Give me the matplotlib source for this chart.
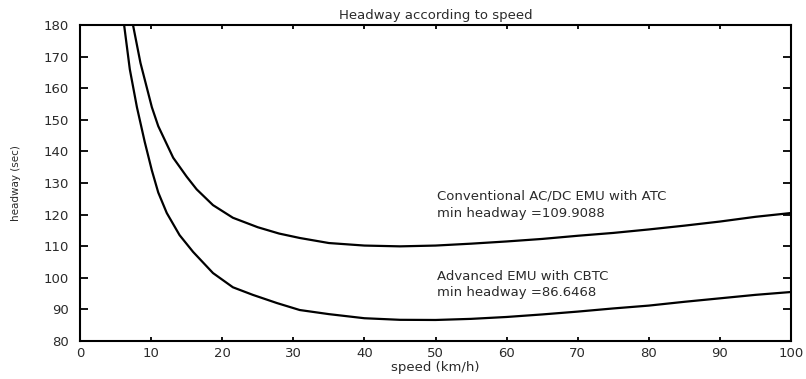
import matplotlib
matplotlib.use("Agg")
import matplotlib.pyplot as plt

# ---------------------------------------------------------------------------
# data
# ---------------------------------------------------------------------------

speed_atc = [7.45, 8.5, 10.1, 11, 13.1, 15, 16.4, 18.7, 21.5, 25, 28, 30.9, 35,
             40, 45, 50, 55, 60, 65, 70, 75, 80, 85, 90, 95, 100]
headway_atc = [180, 168, 154, 148, 138, 132, 128, 123, 119, 116, 114, 112.6, 111,
               110.2, 109.95, 110.2, 110.8, 111.5, 112.3, 113.3, 114.2, 115.3,
               116.5, 117.8, 119.3, 120.5]

speed_cbtc = [6.2, 7, 8, 9.1, 10.1, 11, 12.2, 14, 15.9, 18.7, 21.5, 24.3, 27.7,
              30.9, 35, 40, 45, 50, 55, 60, 65, 70, 75, 80, 85, 90, 95, 100]
headway_cbtc = [180, 166, 154, 143, 134, 127, 120.5, 113.5, 108.2, 101.5, 97, 94.6,
                92, 89.8, 88.5, 87.2, 86.7, 86.65, 87, 87.6, 88.4, 89.3, 90.3,
                91.2, 92.4, 93.5, 94.6, 95.5]

label_atc = ["Conventional AC/DC EMU with ATC", "min headway =109.9088"]
label_cbtc = ["Advanced EMU with CBTC", "min headway =86.6468"]

# ---------------------------------------------------------------------------
# plot
# ---------------------------------------------------------------------------

txt = '#2a2a2a'
fig = plt.figure(figsize=(8.06, 3.79), dpi=100)
ax = fig.add_axes([0.0993, 0.1003, 0.8821, 0.8337])

ax.plot(speed_atc, headway_atc, 'k-', lw=1.6)
ax.plot(speed_cbtc, headway_cbtc, 'k-', lw=1.6)

ax.set_xlim(0, 100)
ax.set_ylim(80, 180)
ax.set_xticks(range(0, 101, 10))
ax.set_yticks(range(80, 181, 10))

for s in ax.spines.values():
    s.set_linewidth(1.5)

ax.tick_params(axis='both', direction='in', top=True, right=True,
               labelsize=9.5, labelcolor=txt, width=1.3)
ax.tick_params(axis='y', length=6, pad=8)
ax.tick_params(axis='x', length=3, pad=4)

ax.text(50.2, 125.9, label_atc[0], fontsize=9.5, color=txt, va='center')
ax.text(50.2, 120.5, label_atc[1], fontsize=9.5, color=txt, va='center')
ax.text(50.2, 100.3, label_cbtc[0], fontsize=9.5, color=txt, va='center')
ax.text(50.2, 95.2, label_cbtc[1], fontsize=9.5, color=txt, va='center')

ax.set_title("Headway according to speed", fontsize=9.5, color=txt, pad=4)
ax.set_xlabel("speed (km/h)", fontsize=9.5, color=txt, labelpad=1)
ax.set_ylabel("headway (sec)", fontsize=7.5, color=txt, labelpad=16)

fig.savefig('out.png', dpi=100)
